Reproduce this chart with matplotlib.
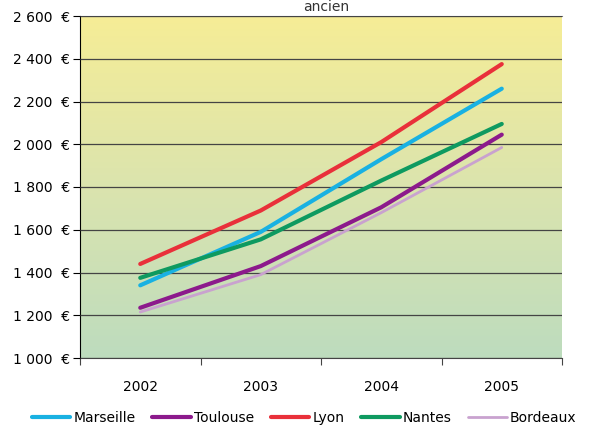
import matplotlib
matplotlib.use("Agg")
import matplotlib.pyplot as plt
import numpy as np
from matplotlib.colors import LinearSegmentedColormap

years = ["2002", "2003", "2004", "2005"]
marseille = [1340, 1590, 1930, 2260]
toulouse = [1235, 1430, 1705, 2045]
lyon = [1440, 1690, 2010, 2375]
nantes = [1375, 1555, 1830, 2095]
bordeaux = [1215, 1390, 1680, 1985]
yticks = [1000, 1200, 1400, 1600, 1800, 2000, 2200, 2400, 2600]

series = [
    ("Marseille", marseille, "#19b1e2", 3.0),
    ("Toulouse", toulouse, "#8c1a8c", 3.0),
    ("Lyon", lyon, "#e9303a", 3.0),
    ("Nantes", nantes, "#0e9a60", 3.0),
    ("Bordeaux", bordeaux, "#c9a2cf", 2.0),
]

plt.rcParams["font.family"] = ["DejaVu Sans"]
fig = plt.figure(figsize=(5.96, 4.28), dpi=100)
ax = fig.add_axes([80 / 596, 1 - 358 / 428, 482 / 596, 342 / 428])

x = np.arange(len(years))
ax.set_xlim(-0.5, len(years) - 0.5)
ax.set_ylim(1000, 2600)

# yellow -> green background gradient
cmap = LinearSegmentedColormap.from_list("bg", ["#bddcbe", "#dbe4ae", "#f6ed96"])
grad = np.linspace(0, 1, 256).reshape(-1, 1)
ax.imshow(grad, cmap=cmap, origin="lower", aspect="auto",
          extent=[-0.5, len(years) - 0.5, 1000, 2600], zorder=0)

for name, vals, col, lw in series:
    ax.plot(x, vals, color=col, lw=lw, label=name, solid_capstyle="round", zorder=3)

ax.set_yticks(yticks)
ax.set_yticklabels([f"{v // 1000} {v % 1000:03d}  €" for v in yticks], fontsize=10)
ax.yaxis.grid(True, color="#444444", lw=0.9, zorder=1)
ax.set_axisbelow(False)

ax.set_xticks(np.arange(len(years) + 1) - 0.5)
ax.set_xticklabels([])
ax.set_xticks(x, minor=True)
ax.set_xticklabels(years, minor=True, fontsize=10)
ax.tick_params(axis="x", which="minor", length=0, pad=16)
ax.tick_params(axis="x", which="major", length=5, color="#444444")
ax.tick_params(axis="y", length=5, pad=2)

ax.spines["right"].set_visible(False)
ax.spines["top"].set_color("#777777")
ax.spines["bottom"].set_color("#444444")
ax.spines["left"].set_color("black")

fig.text(0.548, 0.999, "ancien", ha="center", va="top", fontsize=10, color="#333333")

fig.legend(loc="lower center", ncol=5, frameon=False, fontsize=10,
           bbox_to_anchor=(0.51, -0.022), handlelength=2.8, handletextpad=0.2,
           columnspacing=1.2)

fig.savefig("out.png", dpi=100)
